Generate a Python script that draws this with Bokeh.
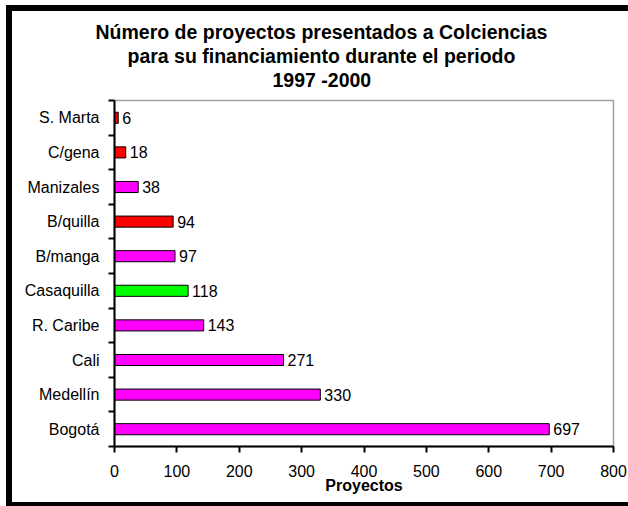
from bokeh.plotting import figure
from bokeh.models import Range1d, FixedTicker, Title
from bokeh.core.properties import value
from bokeh.embed import file_html
from bokeh.resources import INLINE

# Data (bottom to top)
cities = ["Bogotá", "Medellín", "Cali", "R. Caribe", "Casaquilla",
          "B/manga", "B/quilla", "Manizales", "C/gena", "S. Marta"]
proyectos = [697, 330, 271, 143, 118, 97, 94, 38, 18, 6]
bar_colors = ["#FF00FF", "#FF00FF", "#FF00FF", "#FF00FF", "#00FF00",
              "#FF00FF", "#FF0000", "#FF00FF", "#FF0000", "#FF0000"]
x_ticks = [0, 100, 200, 300, 400, 500, 600, 700, 800]
title_lines = ["Número de proyectos presentados a Colciencias",
               "para su financiamiento durante el periodo",
               "1997 -2000"]
x_label = "Proyectos"

FONT = "Liberation Sans"

positions = list(range(1, len(cities) + 1))
boundaries = [p_ + 0.5 for p_ in range(0, len(cities) + 1)]

p = figure(width=628, height=506, output_backend="svg", toolbar_location=None,
           x_range=Range1d(0, 800), y_range=Range1d(0.5, len(cities) + 0.5),
           min_border_left=114, min_border_right=15, min_border_top=100,
           min_border_bottom=60)
p.title = None
p.xgrid.visible = False
p.ygrid.visible = False
p.background_fill_color = "white"
p.border_fill_color = None
p.outline_line_color = "#A0A0A0"
p.outline_line_width = 1.5
# black frame around the whole chart (left, top, bottom), painted behind
# the transparent canvas border
p.styles = {
    "background": ("linear-gradient(black, black) 6px 5px / 6px 501px no-repeat, "
                   "linear-gradient(black, black) 6px 5px / 622px 6px no-repeat, "
                   "linear-gradient(black, black) 6px 502px / 622px 4px no-repeat"),
}

p.hbar(y=positions, right=proyectos, left=0, height=0.32,
       fill_color=bar_colors, line_color="black", line_width=1)

p.text(x=proyectos, y=positions, text=[str(v) for v in proyectos],
       x_offset=4, text_baseline="middle", text_align="left",
       text_font=value(FONT), text_font_size="16px", text_color="black")

# x axis
xa = p.xaxis[0]
xa.ticker = FixedTicker(ticks=x_ticks, minor_ticks=[])
xa.axis_line_color = "black"
xa.axis_line_width = 2
xa.major_tick_line_color = "black"
xa.major_tick_line_width = 2
xa.major_tick_out = 6
xa.major_tick_in = 0
xa.minor_tick_line_color = None
xa.major_label_text_font = FONT
xa.major_label_text_font_size = "16px"
xa.major_label_text_color = "black"
xa.major_label_standoff = 12
xa.axis_label = x_label
xa.axis_label_text_font = FONT
xa.axis_label_text_font_size = "16px"
xa.axis_label_text_font_style = "bold"
xa.axis_label_text_color = "black"
xa.axis_label_standoff = -3

# y axis
ya = p.yaxis[0]
ya.ticker = FixedTicker(ticks=positions, minor_ticks=boundaries)
ya.major_label_overrides = {pos: name for pos, name in zip(positions, cities)}
ya.axis_line_color = "black"
ya.axis_line_width = 2
ya.major_tick_line_color = None
ya.major_tick_out = 0
ya.major_tick_in = 0
ya.minor_tick_line_color = "black"
ya.minor_tick_line_width = 2
ya.minor_tick_out = 6
ya.minor_tick_in = 0
ya.major_label_text_font = FONT
ya.major_label_text_font_size = "16px"
ya.major_label_text_color = "black"
ya.major_label_standoff = 9

# spacer between the title block and the plot frame
p.add_layout(Title(text=" ", text_font_size="1px", standoff=7), "above")
# title lines (added bottom line first: later titles stack above)
offsets = [-19, 13, 158]
for line, off in reversed(list(zip(title_lines, offsets))):
    p.add_layout(Title(text=line, align="left", offset=off, standoff=0,
                       text_font=FONT, text_font_size="19.5px",
                       text_font_style="bold", text_color="black"), "above")

open("out.html", "w").write(file_html(p, INLINE))
